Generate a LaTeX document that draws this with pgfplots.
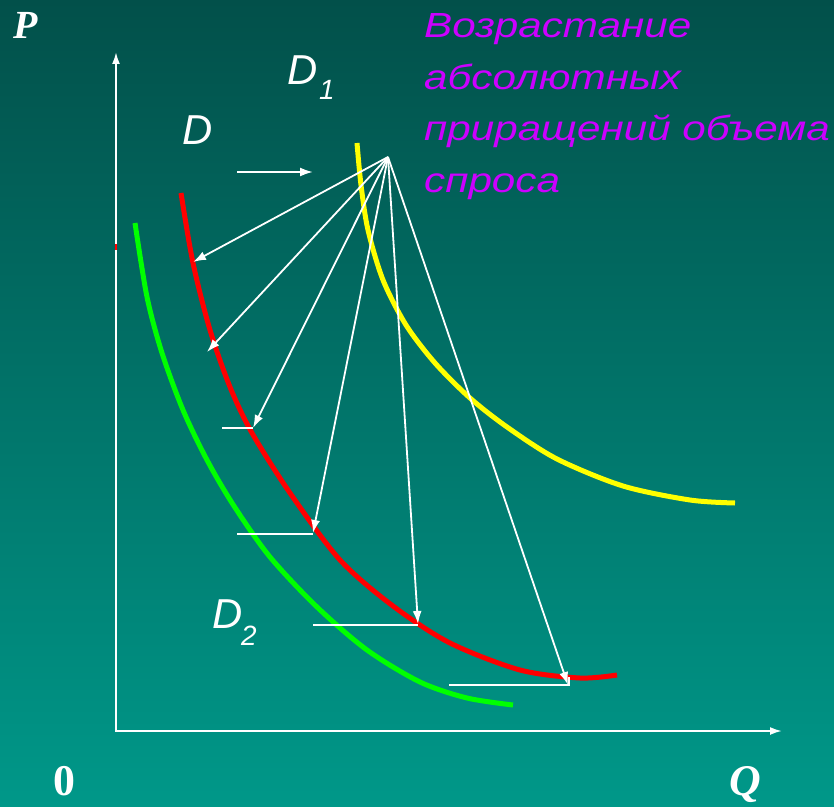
\documentclass[border=0pt]{standalone}
\usepackage{pgfplots}
\pgfplotsset{compat=1.18}
\usepackage{fontspec}
\setmainfont{Liberation Sans}
\newfontfamily\magfont[FakeStretch=1.21]{Liberation Sans}
\newfontfamily\seriffont{Liberation Serif}
\usetikzlibrary{arrows.meta}
\definecolor{bgtop}{RGB}{2,80,74}
\definecolor{bgbot}{RGB}{0,152,137}
\definecolor{mag}{RGB}{204,0,255}
\definecolor{cyel}{RGB}{255,255,0}
\definecolor{cred}{RGB}{255,0,0}
\definecolor{cgreen}{RGB}{0,255,0}
\begin{document}
\begin{tikzpicture}
\begin{axis}[width=834bp,height=807bp,scale only axis,
  xmin=0,xmax=834,ymin=0,ymax=807,y dir=reverse,
  hide axis,clip=false]
% background
\addplot[draw=none,top color=bgtop,bottom color=bgbot] coordinates {(0,0)(834,0)(834,807)(0,807)} -- cycle;
% axes
\addplot[white,line width=2bp,-{Latex[length=12bp,width=8bp]}] coordinates {(116,731)(116,52)};
\addplot[white,line width=2bp,-{Latex[length=12bp,width=8bp]}] coordinates {(115,731)(782,731)};
\addplot[cred,line width=2bp] coordinates {(116,244)(116,250)};
% curves
\addplot[cyel,line width=5bp,smooth] coordinates {(357,143)(361,185)(368,230)(383,280)(406,325)(435,363)(470,398)(507,427)(557,459)(623,486)(690,500)(735,503)};
\addplot[cred,line width=5bp,smooth] coordinates {(181,193)(193,263)(210,330)(230,387)(252,433)(290,493)(340,560)(393,606)(450,643)(520,670)(580,678)(617,675)};
\addplot[cgreen,line width=5bp,smooth] coordinates {(135,223)(147,297)(162,353)(183,410)(207,460)(234,506)(270,557)(317,607)(367,650)(420,682)(467,698)(513,705)};
% horizontal segments
\addplot[white,line width=2bp] coordinates {(222,428)(253,428)};
\addplot[white,line width=2bp] coordinates {(237,534)(313,534)};
\addplot[white,line width=2bp] coordinates {(313,625)(418,625)};
\addplot[white,line width=2bp] coordinates {(449,685)(569,685)(569,677)};
% shift arrow
\addplot[white,line width=2bp,-{Latex[length=13bp,width=9bp]}] coordinates {(237,172)(313,172)};
% fan of arrows
\addplot[white,line width=1.8bp,-{Latex[length=13bp,width=9bp]}] coordinates {(388,157)(193,262)};
\addplot[white,line width=1.8bp,-{Latex[length=13bp,width=9bp]}] coordinates {(388,157)(207,352)};
\addplot[white,line width=1.8bp,-{Latex[length=13bp,width=9bp]}] coordinates {(388,157)(253,428)};
\addplot[white,line width=1.8bp,-{Latex[length=13bp,width=9bp]}] coordinates {(388,157)(313,533)};
\addplot[white,line width=1.8bp,-{Latex[length=13bp,width=9bp]}] coordinates {(388,157)(418,624)};
\addplot[white,line width=1.8bp,-{Latex[length=13bp,width=9bp]}] coordinates {(388,157)(568,685)};
% labels
\node[anchor=base west,inner sep=0,white] at (axis cs:13,39) {\fontsize{40}{40}\selectfont\seriffont\bfseries\itshape P};
\node[anchor=base west,inner sep=0,white] at (axis cs:53,795) {\fontsize{44}{44}\selectfont\seriffont\bfseries 0};
\node[anchor=base west,inner sep=0,white] at (axis cs:729,795) {\fontsize{44}{44}\selectfont\seriffont\bfseries\itshape Q};
\node[anchor=base west,inner sep=0,white] at (axis cs:182,145) {\fontsize{42}{42}\selectfont\itshape D};
\node[anchor=base west,inner sep=0,white] at (axis cs:287,85) {\fontsize{42}{42}\selectfont\itshape D};
\node[anchor=base west,inner sep=0,white] at (axis cs:319,100) {\fontsize{28}{28}\selectfont\itshape 1};
\node[anchor=base west,inner sep=0,white] at (axis cs:212,628) {\fontsize{42}{42}\selectfont\itshape D};
\node[anchor=base west,inner sep=0,white] at (axis cs:241,645) {\fontsize{28}{28}\selectfont\itshape 2};
\node[anchor=base west,inner sep=0,mag] at (axis cs:424,38) {\fontsize{35}{35}\selectfont\magfont\itshape Возрастание};
\node[anchor=base west,inner sep=0,mag] at (axis cs:424,90) {\fontsize{35}{35}\selectfont\magfont\itshape абсолютных};
\node[anchor=base west,inner sep=0,mag] at (axis cs:424,141) {\fontsize{35}{35}\selectfont\magfont\itshape приращений объема};
\node[anchor=base west,inner sep=0,mag] at (axis cs:424,193) {\fontsize{35}{35}\selectfont\magfont\itshape спроса};
\end{axis}
\pgfresetboundingbox
\path[use as bounding box] (current axis.south west) rectangle (current axis.north east);
\end{tikzpicture}
\end{document}
